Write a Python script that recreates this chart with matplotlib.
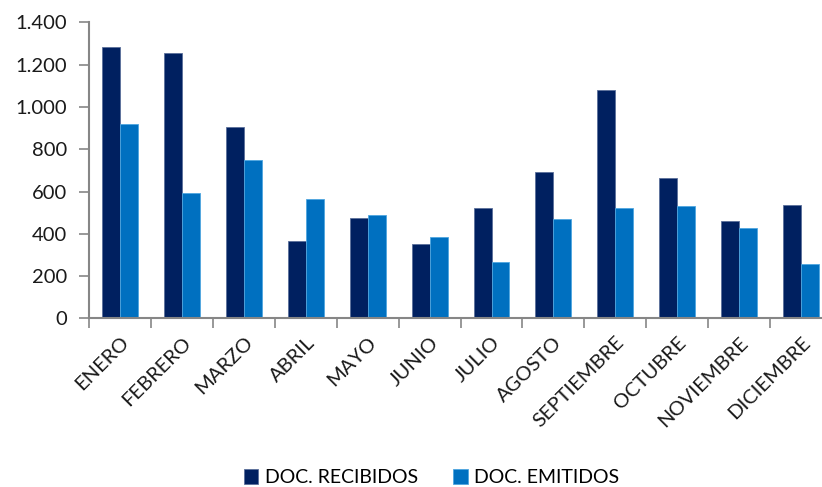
import matplotlib
matplotlib.use("Agg")
import matplotlib.pyplot as plt
from matplotlib.ticker import FuncFormatter, FixedLocator
import numpy as np

meses = ["ENERO", "FEBRERO", "MARZO", "ABRIL", "MAYO", "JUNIO", "JULIO",
         "AGOSTO", "SEPTIEMBRE", "OCTUBRE", "NOVIEMBRE", "DICIEMBRE"]
recibidos = [1285, 1255, 904, 365, 473, 352, 521, 691, 1080, 663, 462, 538]
emitidos = [920, 593, 751, 565, 488, 385, 265, 469, 521, 532, 429, 260]
series = ["DOC. RECIBIDOS", "DOC. EMITIDOS"]
colores = ["#002060", "#0070C0"]

plt.rcParams["font.family"] = ["Lato", "DejaVu Sans"]

fig = plt.figure(figsize=(8.22, 4.87), dpi=100)
ax = fig.add_axes([0.1083, 0.346, 0.904, 0.6078])

x = np.arange(len(meses))
w = 0.29
ax.bar(x - w / 2, recibidos, w, color=colores[0], edgecolor="#5a6f9a",
       linewidth=0.6, label=series[0])
ax.bar(x + w / 2, emitidos, w, color=colores[1], edgecolor="#4fa6e0",
       linewidth=0.6, label=series[1])

ax.set_xlim(-0.5, len(meses) - 0.5)
ax.set_ylim(0, 1400)
ax.set_yticks(np.arange(0, 1401, 200))
ax.yaxis.set_major_formatter(FuncFormatter(lambda v, p: f"{int(v):,}".replace(",", ".")))

# category boundaries carry the tick marks, centres carry the labels
ax.xaxis.set_major_locator(FixedLocator(np.arange(-0.5, len(meses), 1.0)))
ax.xaxis.set_minor_locator(FixedLocator(x))
ax.set_xticklabels([], minor=False)
ax.set_xticklabels(meses, minor=True, rotation=45, ha="right",
                   rotation_mode="anchor", fontsize=14.5, color="#1a1a1a")
ax.tick_params(axis="x", which="minor", length=0, pad=11)
ax.tick_params(axis="x", which="major", length=7, width=1.2, color="#868686")
ax.tick_params(axis="y", length=7, width=1.2, color="#868686",
               labelsize=14.5, labelcolor="#1a1a1a", pad=9)

for s in ["top", "right"]:
    ax.spines[s].set_visible(False)
for s in ["left", "bottom"]:
    ax.spines[s].set_color("#868686")
    ax.spines[s].set_linewidth(1.5)

fig.legend(loc="center", bbox_to_anchor=(0.525, 0.019), ncol=2, frameon=False,
           fontsize=14, handlelength=0.75, handleheight=0.75,
           handletextpad=0.35, columnspacing=1.8, borderpad=0.1)

fig.savefig("out.png", dpi=100)
